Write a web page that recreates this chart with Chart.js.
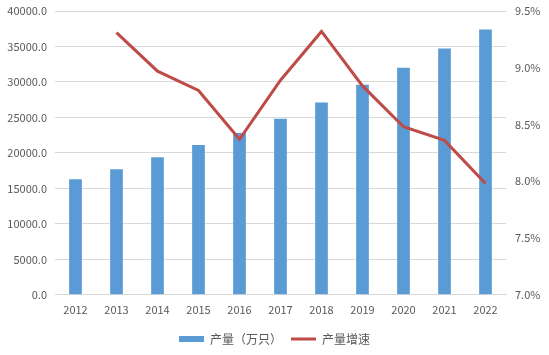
<!DOCTYPE html>
<html>
<head>
<meta charset="utf-8">
<script src="https://cdn.jsdelivr.net/npm/chart.js@4/dist/chart.umd.min.js"></script>
<style>
html,body{margin:0;padding:0;background:#fff;}
#wrap{width:549px;height:355px;position:relative;}
</style>
</head>
<body>
<div id="wrap"><canvas id="c" width="549" height="355"></canvas></div>
<script>
const years = ['2012','2013','2014','2015','2016','2017','2018','2019','2020','2021','2022'];
const output = [16300, 17700, 19400, 21100, 22800, 24800, 27100, 29600, 32000, 34700, 37400];
const growth = [null, 9.31, 8.97, 8.80, 8.37, 8.89, 9.32, 8.84, 8.48, 8.36, 7.98];
const seriesNames = ['产量（万只）', '产量增速'];

const font = {family: '"Noto Sans CJK SC", "Noto Sans", sans-serif', size: 11};
new Chart(document.getElementById('c'), {
  data: {
    labels: years,
    datasets: [
      {type: 'line', label: seriesNames[1], data: growth, yAxisID: 'y1',
       borderColor: '#BE4B48', backgroundColor: '#BE4B48', borderWidth: 3,
       pointRadius: 0, pointStyle: 'line', tension: 0, order: 0},
      {type: 'bar', label: seriesNames[0], data: output, yAxisID: 'y',
       backgroundColor: '#5B9BD5', categoryPercentage: 1, barPercentage: 0.31,
       pointStyle: 'rect', order: 1}
    ]
  },
  options: {
    responsive: false,
    animation: false,
    layout: {padding: {top: 11, bottom: 0, left: 0, right: 0}},
    plugins: {
      legend: {
        position: 'bottom',
        reverse: true,
        labels: {usePointStyle: true, pointStyleWidth: 25, boxHeight: 6, boxWidth: 25,
                 color: '#595959', font: {family: font.family, size: 12}, padding: 9}
      },
      tooltip: {enabled: false}
    },
    scales: {
      x: {
        grid: {display: false, drawTicks: false},
        border: {display: true, color: '#d9d9d9'},
        ticks: {color: '#595959', font: font, padding: 8}
      },
      y: {
        position: 'left', min: 0, max: 40000,
        ticks: {stepSize: 5000, color: '#595959', font: font, padding: 8,
                callback: v => Number(v).toFixed(1)},
        grid: {color: '#d9d9d9', drawTicks: false},
        border: {display: false},
        afterFit: s => { s.width = 55; s.paddingTop = 0; s.paddingBottom = 0; }
      },
      y1: {
        position: 'right', min: 7.0, max: 9.5,
        ticks: {stepSize: 0.5, color: '#595959', font: font, padding: 9,
                callback: v => Number(v).toFixed(1) + '%'},
        grid: {display: false, drawTicks: false},
        border: {display: false},
        afterFit: s => { s.width = 43; s.paddingTop = 0; s.paddingBottom = 0; }
      }
    }
  }
});
</script>
</body>
</html>
